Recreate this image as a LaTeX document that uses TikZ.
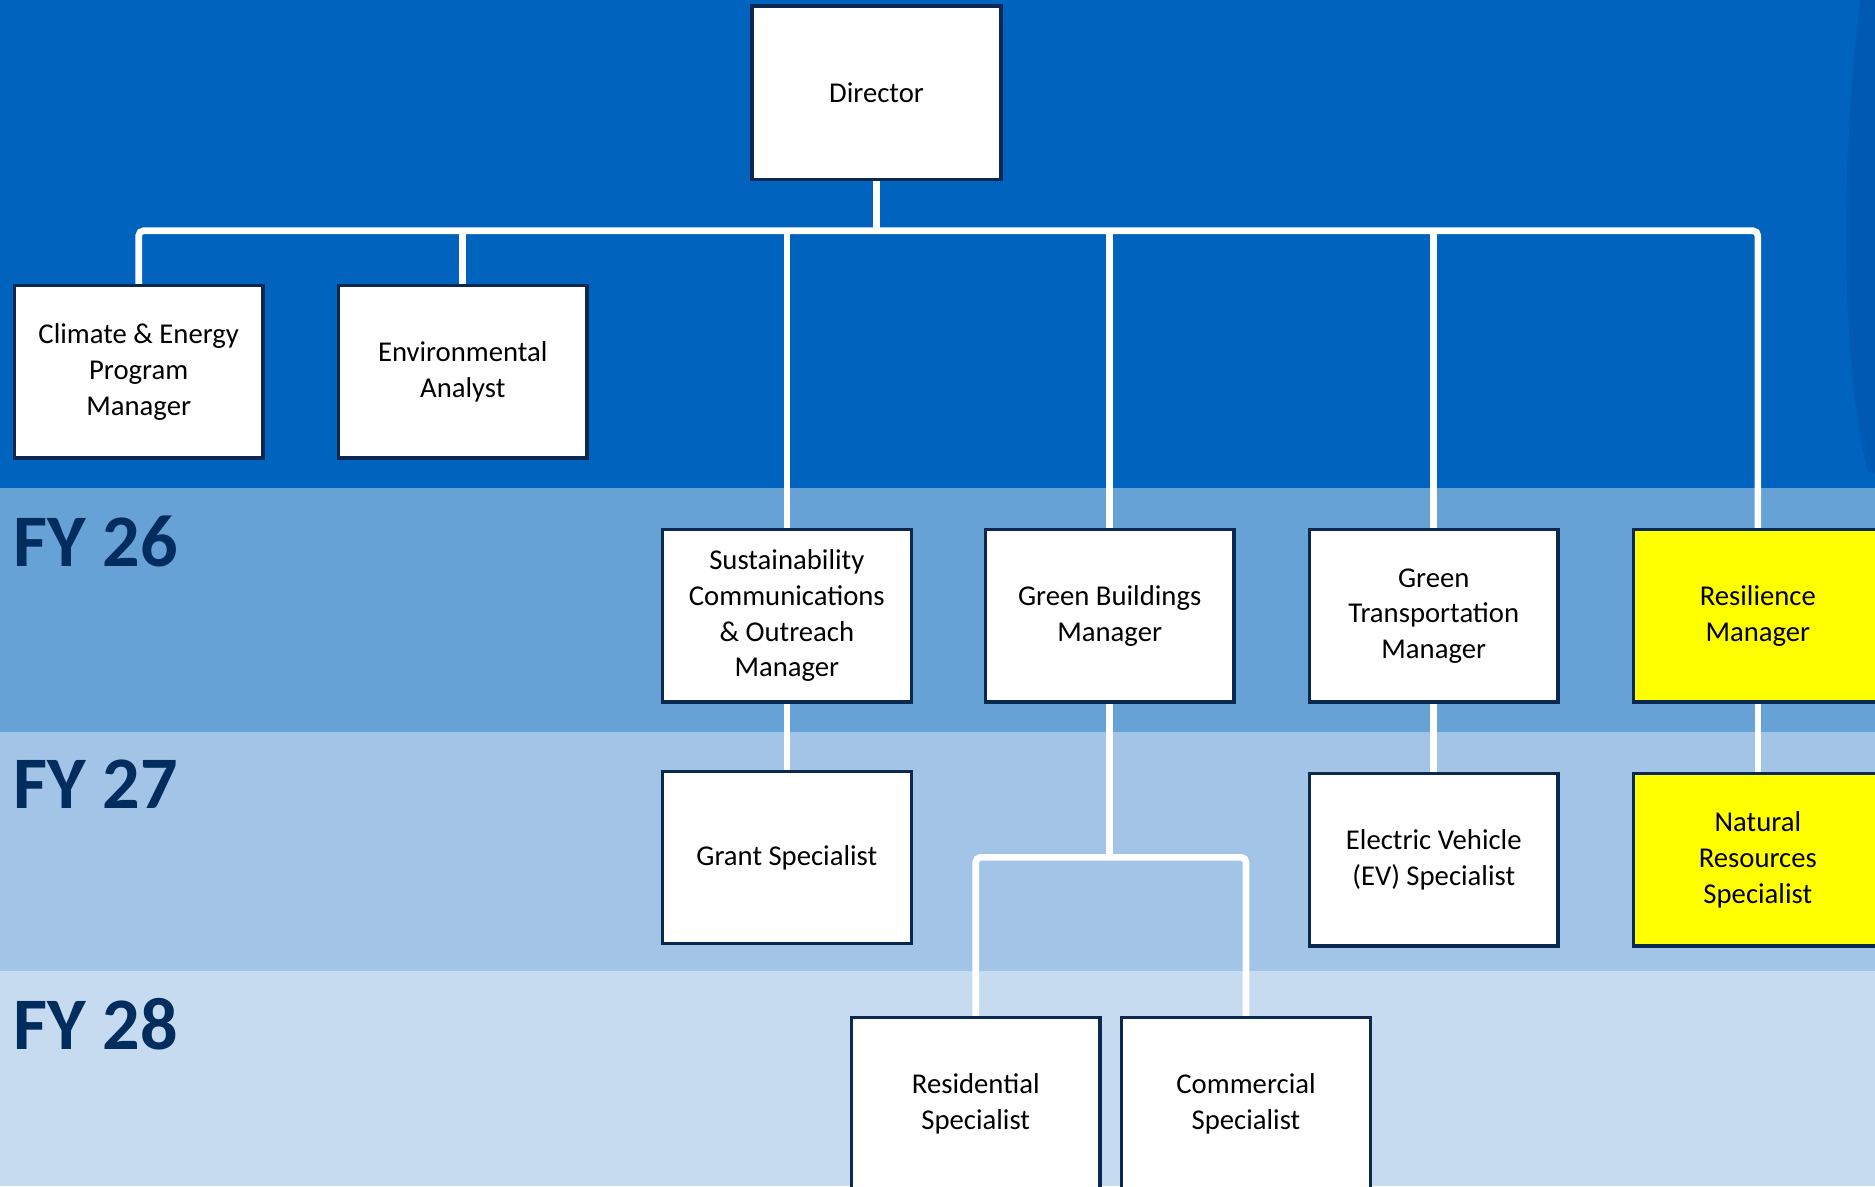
\documentclass[tikz,border=0pt]{standalone}
\usepackage{fontspec}
\setmainfont{Carlito}
\pgfdeclarelayer{bands}
\pgfdeclarelayer{lines}
\pgfsetlayers{bands,lines,main}
\definecolor{topblue}{HTML}{0063BE}
\definecolor{topdark}{HTML}{0059B3}
\definecolor{fya}{HTML}{66A2D6}
\definecolor{fyb}{HTML}{A2C5E7}
\definecolor{fyc}{HTML}{C6DBEF}
\definecolor{navy}{HTML}{002D5E}
\definecolor{boxline}{HTML}{0B2850}
\definecolor{hilite}{HTML}{FFFF00}
\tikzset{
  role/.style={draw=boxline, line width=2.8pt, fill=white, minimum width=208pt, minimum height=144pt,
    align=center, inner sep=0pt, font=\fontsize{24}{29.8}\selectfont, text=black},
  newrole/.style={role, fill=hilite},
  conn/.style={draw=white, line width=5.5pt},
  fylabel/.style={anchor=north west, inner sep=0pt, font=\fontsize{62}{62}\selectfont\bfseries, text=navy}
}
\begin{document}
\begin{tikzpicture}[x=1pt,y=-1pt]
\useasboundingbox (0,0) rectangle (1568,992);
\clip (0,0) rectangle (1568,992);
\begin{pgfonlayer}{bands}
  \fill[topblue] (0,0) rectangle (1568,408);
  \fill[topdark] (1556,0) .. controls (1540,120) and (1538,300) .. (1562,395) -- (1568,395) -- (1568,0) -- cycle;
  \fill[fya] (0,408) rectangle (1568,612);
  \fill[fyb] (0,612) rectangle (1568,812);
  \fill[fyc] (0,812) rectangle (1568,992);
\end{pgfonlayer}

\node[fylabel] (fy26) at (11,431) {FY 26};
\node[fylabel] (fy27) at (11,635) {FY 27};
\node[fylabel] (fy28) at (11,835) {FY 28};

\node[role, minimum height=145pt] (dir) at (733,77.5) {Director};
\node[role] (cem) at (116,311) {Climate \& Energy\\Program\\Manager};
\node[role] (env) at (387,311) {Environmental\\Analyst};
\node[role] (sust) at (658,515) {Sustainability\\Communications\\\& Outreach\\Manager};
\node[role] (gb) at (928,515) {Green Buildings\\Manager};
\node[role] (gt) at (1199,515) {Green\\Transportation\\Manager};
\node[newrole] (res) at (1470,515) {Resilience\\Manager};
\node[role] (grant) at (658,717) {Grant Specialist};
\node[role] (ev) at (1199,719) {Electric Vehicle\\(EV) Specialist};
\node[newrole] (nr) at (1470,719) {Natural\\Resources\\Specialist};
\node[role] (rspec) at (816,923) {Residential\\Specialist};
\node[role] (cspec) at (1042,923) {Commercial\\Specialist};

\coordinate (bus) at (733,193);
\coordinate (gbj) at (929,717);
\begin{pgfonlayer}{lines}
  \draw[conn] (dir.south) -- (bus);
  \draw[conn, rounded corners=4pt] (cem.north) |- (bus) -| (res.north);
  \draw[conn] (env.north) -- (env.north |- bus);
  \draw[conn] (sust.north) -- (sust.north |- bus);
  \draw[conn] (gb.north) -- (gb.north |- bus);
  \draw[conn] (gt.north) -- (gt.north |- bus);
  \draw[conn] (sust) -- (grant);
  \draw[conn] (gt) -- (ev);
  \draw[conn] (res) -- (nr);
  \draw[conn] (gb.south) -- (gb.south |- gbj);
  \draw[conn, rounded corners=4pt] (rspec.north) |- (gbj) -| (cspec.north);
\end{pgfonlayer}
\end{tikzpicture}
\end{document}
